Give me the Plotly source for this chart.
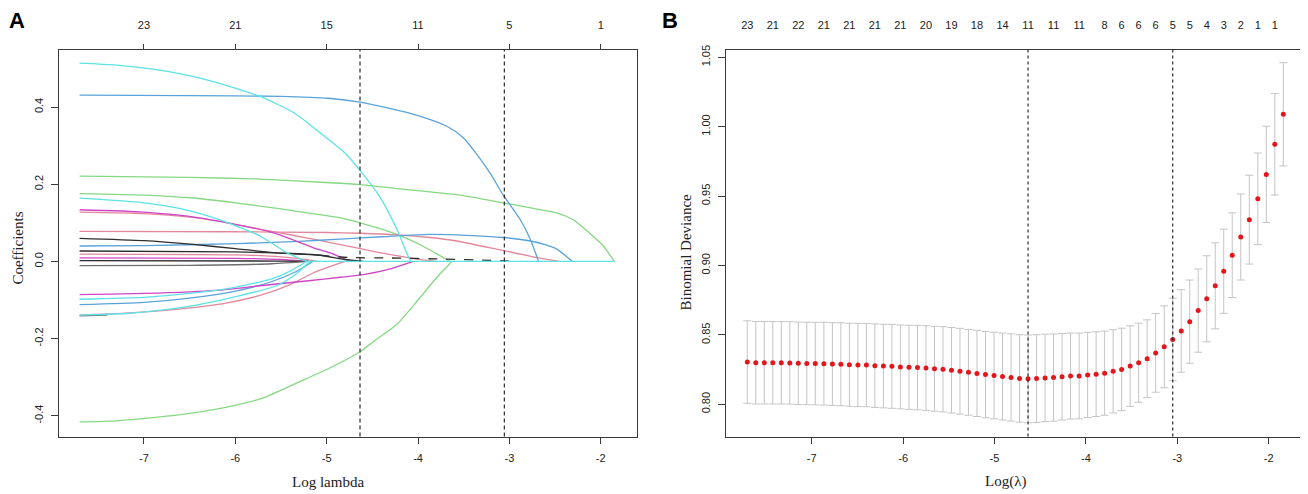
import plotly.graph_objects as go

# ---------------- Panel A data: coefficient paths (log lambda, coefficient) ----------------
path_cyan_top = [(-7.705, 0.514), (-7.3, 0.509), (-6.92, 0.499), (-6.6, 0.486), (-6.27, 0.468),
                 (-6.0, 0.449), (-5.72, 0.427), (-5.35, 0.384), (-5.07, 0.333), (-4.80, 0.281),
                 (-4.635, 0.236), (-4.42, 0.168), (-4.23, 0.083), (-4.12, 0.02), (-4.08, 0.0)]
path_blue_top = [(-7.705, 0.431), (-6.5, 0.430), (-5.5, 0.428), (-4.98, 0.423), (-4.635, 0.413),
                 (-4.3, 0.396), (-4.0, 0.378), (-3.69, 0.351), (-3.51, 0.322), (-3.36, 0.279),
                 (-3.2, 0.225), (-3.07, 0.173), (-2.88, 0.108), (-2.77, 0.057), (-2.68, 0.0)]
path_green_top = [(-7.705, 0.221), (-6.5, 0.218), (-5.8, 0.214), (-4.96, 0.204), (-4.635, 0.199),
                  (-4.2, 0.188), (-3.58, 0.173), (-3.07, 0.152), (-2.75, 0.138), (-2.48, 0.126),
                  (-2.3, 0.108), (-2.19, 0.087), (-2.05, 0.058), (-1.97, 0.040), (-1.85, 0.0)]
path_green_mid = [(-7.705, 0.176), (-7.0, 0.172), (-6.5, 0.165), (-6.0, 0.152), (-5.5, 0.136),
                  (-5.1, 0.122), (-4.85, 0.113), (-4.635, 0.100), (-4.23, 0.070), (-3.95, 0.040),
                  (-3.76, 0.015), (-3.65, 0.0)]
path_cyan_mid = [(-7.705, 0.164), (-7.0, 0.152), (-6.6, 0.137), (-6.17, 0.108), (-5.73, 0.066),
                 (-5.44, 0.023), (-5.22, 0.0)]
path_magenta_hi = [(-7.705, 0.134), (-7.0, 0.128), (-6.5, 0.117), (-6.17, 0.104), (-5.58, 0.074),
                   (-5.15, 0.036), (-4.96, 0.022), (-4.74, 0.0)]
path_pink_hi = [(-7.705, 0.128), (-7.0, 0.124), (-6.5, 0.115), (-6.17, 0.104), (-5.58, 0.077),
                (-5.15, 0.058), (-4.96, 0.049), (-4.42, 0.023), (-4.0, 0.006), (-3.8, 0.0)]
path_pink_flat = [(-7.705, 0.078), (-6.0, 0.077), (-5.0, 0.075), (-4.635, 0.073), (-4.23, 0.069),
                  (-3.87, 0.062), (-3.58, 0.053), (-3.14, 0.032), (-2.70, 0.010), (-2.45, 0.0)]
path_blue_rise = [(-7.705, 0.040), (-7.0, 0.041), (-6.0, 0.046), (-5.3, 0.052), (-4.85, 0.058),
                  (-4.4, 0.064), (-3.87, 0.070), (-3.4, 0.067), (-3.07, 0.062), (-2.77, 0.053),
                  (-2.6, 0.043), (-2.48, 0.032), (-2.31, 0.0)]
path_black_a = [(-7.705, 0.060), (-7.0, 0.054), (-6.46, 0.044), (-6.0, 0.033), (-5.58, 0.023),
                (-5.07, 0.016)]
path_black_a_tail = [(-5.07, 0.016), (-4.74, 0.010), (-4.3, 0.009), (-3.72, 0.006), (-3.2, 0.003),
                     (-2.92, 0.0)]
path_black_b = [(-7.705, 0.027), (-6.0, 0.025), (-5.3, 0.020), (-5.07, 0.016), (-4.8, 0.005),
                (-4.6, 0.0)]
path_pink_lo = [(-7.705, 0.019), (-6.0, 0.017), (-5.5, 0.012), (-5.2, 0.004), (-5.1, 0.0)]
path_magenta_lo = [(-7.705, 0.009), (-6.0, 0.008), (-5.5, 0.005), (-5.2, 0.0)]
path_black_c = [(-7.705, 0.002), (-5.5, 0.001), (-5.2, 0.0)]
path_gray_neg = [(-7.705, -0.011), (-6.5, -0.010), (-5.6, -0.006), (-5.2, 0.0)]
path_magenta_neg = [(-7.705, -0.086), (-7.0, -0.083), (-6.2, -0.075), (-5.73, -0.063),
                    (-5.2, -0.050), (-4.85, -0.041), (-4.6, -0.034), (-4.3, -0.019), (-4.05, 0.0)]
path_cyan_neg = [(-7.705, -0.098), (-7.0, -0.093), (-6.5, -0.083), (-6.0, -0.067), (-5.6, -0.045),
                 (-5.4, -0.025), (-5.22, 0.0)]
path_blue_neg = [(-7.705, -0.112), (-7.0, -0.106), (-6.5, -0.095), (-6.0, -0.077), (-5.6, -0.052),
                 (-5.35, -0.028), (-5.15, 0.0)]
path_gray_neg2 = [(-7.705, -0.141), (-7.4, -0.139)]
path_pink_neg = [(-7.705, -0.139), (-7.2, -0.134), (-6.6, -0.123), (-6.1, -0.108), (-5.73, -0.088),
                 (-5.4, -0.060), (-5.15, -0.030), (-4.96, -0.013), (-4.8, 0.0)]
path_cyan_neg2 = [(-7.705, -0.139), (-7.2, -0.135), (-6.6, -0.120), (-6.1, -0.097), (-5.55, -0.063),
                  (-5.35, -0.035), (-5.22, -0.008), (-5.18, 0.0)]
path_green_neg = [(-7.705, -0.416), (-7.3, -0.413), (-6.9, -0.405), (-6.5, -0.394), (-6.0, -0.373),
                  (-5.7, -0.354), (-5.3, -0.312), (-5.0, -0.280), (-4.635, -0.234), (-4.49, -0.208),
                  (-4.24, -0.165), (-4.0, -0.100), (-3.80, -0.043), (-3.63, 0.0)]
path_cyan_zero = [(-5.22, 0.0), (-1.85, 0.0)]

lambda_min_a = -4.635
lambda_1se_a = -3.055
top_ticks_a = [-7, -6, -5, -4, -3, -2]
top_labels_a = ["23", "21", "15", "11", "5", "1"]
x_ticks = [-7, -6, -5, -4, -3, -2]
x_tick_labels = ["-7", "-6", "-5", "-4", "-3", "-2"]
y_ticks_a = [-0.4, -0.2, 0.0, 0.2, 0.4]
y_tick_labels_a = ["-0.4", "-0.2", "0.0", "0.2", "0.4"]

# ---------------- Panel B data: cross-validation curve ----------------
log_lambda_b = [-7.705, -7.612, -7.519, -7.426, -7.333, -7.240, -7.147, -7.054, -6.961, -6.867,
                -6.774, -6.681, -6.588, -6.495, -6.402, -6.309, -6.216, -6.123, -6.030, -5.936,
                -5.843, -5.750, -5.657, -5.564, -5.471, -5.378, -5.285, -5.192, -5.099, -5.005,
                -4.912, -4.819, -4.726, -4.633, -4.540, -4.447, -4.354, -4.261, -4.168, -4.074,
                -3.981, -3.888, -3.795, -3.702, -3.609, -3.516, -3.423, -3.330, -3.237, -3.143,
                -3.050, -2.957, -2.864, -2.771, -2.678, -2.585, -2.492, -2.399, -2.306, -2.212,
                -2.119, -2.026, -1.933, -1.840]
deviance_b = [0.8304, 0.8299, 0.8299, 0.8299, 0.8299, 0.8298, 0.8295, 0.8294, 0.8293, 0.8292,
              0.8290, 0.8288, 0.8285, 0.8283, 0.8282, 0.8278, 0.8275, 0.8273, 0.8269, 0.8266,
              0.8264, 0.8261, 0.8256, 0.8252, 0.8245, 0.8238, 0.8230, 0.8222, 0.8214, 0.8207,
              0.8200, 0.8193, 0.8186, 0.8183, 0.8185, 0.8190, 0.8192, 0.8198, 0.8203, 0.8204,
              0.8211, 0.8217, 0.8224, 0.8237, 0.8251, 0.8275, 0.8299, 0.8328, 0.8370, 0.8414,
              0.8467, 0.8528, 0.8595, 0.8675, 0.8760, 0.8853, 0.8958, 0.9074, 0.9205, 0.9330,
              0.9480, 0.9656, 0.9873, 1.0089]
deviance_se_b = [0.0297, 0.0297, 0.0297, 0.0297, 0.0297, 0.0297, 0.0297, 0.0297, 0.0297, 0.0298,
                 0.0298, 0.0299, 0.0299, 0.0300, 0.0300, 0.0301, 0.0301, 0.0302, 0.0302, 0.0303,
                 0.0304, 0.0305, 0.0306, 0.0307, 0.0308, 0.0309, 0.0309, 0.0310, 0.0311, 0.0312,
                 0.0313, 0.0314, 0.0315, 0.0316, 0.0316, 0.0315, 0.0314, 0.0312, 0.0310, 0.0309,
                 0.0307, 0.0305, 0.0303, 0.0300, 0.0297, 0.0290, 0.0285, 0.0280, 0.0283, 0.0295,
                 0.0297, 0.0297, 0.0300, 0.0300, 0.0310, 0.0310, 0.0303, 0.0305, 0.0310, 0.0320,
                 0.0330, 0.0347, 0.0366, 0.0372]
lambda_min_b = -4.633
lambda_1se_b = -3.050
top_ticks_b = [-7.705, -7.426, -7.147, -6.867, -6.588, -6.309, -6.030, -5.750, -5.471, -5.192,
               -4.912, -4.633, -4.354, -4.074, -3.795, -3.609, -3.423, -3.237, -3.050, -2.864,
               -2.678, -2.492, -2.306, -2.119, -1.933]
top_labels_b = ["23", "21", "22", "21", "21", "21", "21", "20", "19", "18", "14", "11", "11",
                "11", "8", "6", "6", "6", "5", "5", "4", "3", "2", "1", "1"]
y_ticks_b = [0.80, 0.85, 0.90, 0.95, 1.00, 1.05]
y_tick_labels_b = ["0.80", "0.85", "0.90", "0.95", "1.00", "1.05"]

# ---------------- styles ----------------
GREEN = "#86D882"
CYAN = "#5BE3E6"
BLUE = "#5AA3DA"
PINK = "#E3889B"
MAGENTA = "#CF45C8"
BLACK = "#2E2E2E"
GRAY = "#6E6E6E"

path_styles = [
    (path_gray_neg2, GRAY, "solid"),
    (path_green_top, GREEN, "solid"),
    (path_green_mid, GREEN, "solid"),
    (path_green_neg, GREEN, "solid"),
    (path_pink_flat, PINK, "solid"),
    (path_pink_hi, PINK, "solid"),
    (path_pink_lo, PINK, "solid"),
    (path_pink_neg, PINK, "solid"),
    (path_blue_rise, BLUE, "solid"),
    (path_blue_neg, BLUE, "solid"),
    (path_magenta_hi, MAGENTA, "solid"),
    (path_magenta_lo, MAGENTA, "solid"),
    (path_magenta_neg, MAGENTA, "solid"),
    (path_black_a, BLACK, "solid"),
    (path_black_b, BLACK, "solid"),
    (path_black_c, BLACK, "solid"),
    (path_gray_neg, GRAY, "solid"),
    (path_black_a_tail, BLACK, "dash"),
    (path_blue_top, BLUE, "solid"),
    (path_cyan_mid, CYAN, "solid"),
    (path_cyan_neg, CYAN, "solid"),
    (path_cyan_neg2, CYAN, "solid"),
    (path_cyan_top, CYAN, "solid"),
    (path_cyan_zero, CYAN, "solid"),
]

# The page body has an 8px margin, so the figure is drawn 8px smaller and
# reference pixel positions are shifted by that margin.
OFF = 8
W, H = 1308 - OFF, 494 - OFF
def px_x(p):
    return (p - OFF) / W
def px_y(p):
    return 1 - (p - OFF) / H

A_X0, A_X1 = 59.3, 636.7
B_X0, B_X1 = 726.0, 1304.7
P_Y0, P_Y1 = 45.0, 436.0

fig = go.Figure()

for pts, col, dash in path_styles:
    fig.add_trace(go.Scatter(
        x=[p[0] for p in pts], y=[p[1] for p in pts], mode="lines",
        line=dict(color=col, width=1.3, dash=dash, shape="spline", smoothing=0.6),
        xaxis="x", yaxis="y", showlegend=False, hoverinfo="skip"))

# invisible trace to host the top axis of panel A
fig.add_trace(go.Scatter(x=[top_ticks_a[0]], y=[0], mode="markers", marker=dict(opacity=0),
                         xaxis="x3", yaxis="y", showlegend=False, hoverinfo="skip"))

fig.add_trace(go.Scatter(
    x=log_lambda_b, y=deviance_b, mode="markers",
    marker=dict(color="#E4161C", size=5),
    error_y=dict(type="data", array=deviance_se_b, symmetric=True, color="#C4C4C4",
                 thickness=1, width=4),
    xaxis="x2", yaxis="y2", showlegend=False, hoverinfo="skip"))
fig.add_trace(go.Scatter(x=[top_ticks_b[0]], y=[0.9], mode="markers", marker=dict(opacity=0),
                         xaxis="x4", yaxis="y2", showlegend=False, hoverinfo="skip"))

tick_font = dict(family="Liberation Sans, Arial, sans-serif", size=11, color="#222")
ax_common = dict(showgrid=False, zeroline=False, showline=True, linecolor="#3a3a3a",
                 linewidth=1.2, tickcolor="#3a3a3a", tickfont=tick_font, fixedrange=True)

xr_a = [-7.927, -1.606]
xr_b = [-7.938, -1.606]
fig.update_layout(
    width=W, height=H, margin=dict(l=0, r=0, t=0, b=0),
    paper_bgcolor="white", plot_bgcolor="white",
    xaxis=dict(domain=[px_x(A_X0), px_x(A_X1)], range=xr_a, anchor="y", tickvals=x_ticks,
               ticktext=x_tick_labels, ticks="outside", ticklen=6, mirror=True,
               ticklabelstandoff=5, **ax_common),
    yaxis=dict(domain=[px_y(P_Y1), px_y(P_Y0)], range=[-0.454, 0.549], anchor="x",
               tickvals=y_ticks_a, ticktext=y_tick_labels_a, tickangle=-90, ticks="outside",
               ticklen=7, mirror=True, ticklabelstandoff=4, **ax_common),
    xaxis3=dict(overlaying="x", side="top", range=xr_a, anchor="y", tickvals=top_ticks_a,
                ticktext=top_labels_a, ticks="outside", ticklen=5, ticklabelstandoff=10,
                **ax_common),
    xaxis2=dict(domain=[px_x(B_X0), px_x(B_X1)], range=xr_b, anchor="y2", tickvals=x_ticks,
                ticktext=x_tick_labels, ticks="outside", ticklen=6, mirror=True,
                ticklabelstandoff=5, **ax_common),
    yaxis2=dict(domain=[px_y(P_Y1), px_y(P_Y0)], range=[0.7767, 1.0555], anchor="x2",
                tickvals=y_ticks_b, ticktext=y_tick_labels_b, tickangle=-90, ticks="outside",
                ticklen=7, mirror=True, ticklabelstandoff=4, **ax_common),
    xaxis4=dict(overlaying="x2", side="top", range=xr_b, anchor="y2", tickvals=top_ticks_b,
                ticktext=top_labels_b, ticks="", ticklen=0, ticklabelstandoff=15, **ax_common),
)

# reference lines
for xv, xref, yref, dash in [(lambda_min_a, "x", "y domain", "4px,3px"), (lambda_1se_a, "x", "y domain", "4px,3px"),
                             (lambda_min_b, "x2", "y2 domain", "dot"), (lambda_1se_b, "x2", "y2 domain", "dot")]:
    fig.add_shape(type="line", xref=xref, yref=yref, x0=xv, x1=xv, y0=0, y1=1,
                  line=dict(color="#2a2a2a", width=1.2, dash=dash))

title_font = dict(family="Liberation Serif, Times New Roman, serif", size=15, color="#222")
annots = [
    dict(text="Log lambda", x=px_x(327.5), y=px_y(481.5), textangle=0),
    dict(text="Coefficients", x=px_x(18), y=px_y(246), textangle=-90),
    dict(text="Log(\u03bb)", x=px_x(1005), y=px_y(481.5), textangle=0),
    dict(text="Binomial Deviance", x=px_x(686), y=px_y(250), textangle=-90),
]
for a in annots:
    fig.add_annotation(xref="paper", yref="paper", showarrow=False, font=title_font,
                       xanchor="center", yanchor="middle", **a)
for letter, xx in [("A", 17), ("B", 670)]:
    fig.add_annotation(text="<b>%s</b>" % letter, xref="paper", yref="paper", x=px_x(xx), y=px_y(16),
                       showarrow=False, xanchor="center", yanchor="middle",
                       font=dict(family="Liberation Sans, Arial, sans-serif", size=22, color="#000"))

fig.write_html("out.html")
